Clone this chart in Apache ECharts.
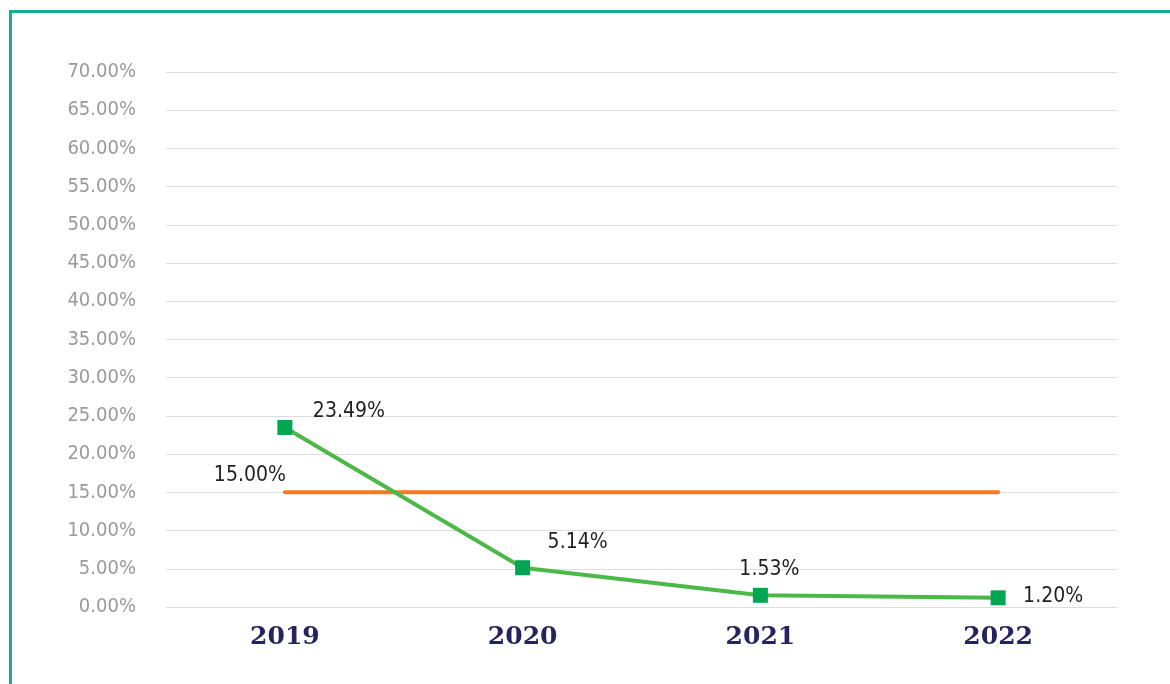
<!DOCTYPE html>
<html>
<head>
<meta charset="utf-8">
<script src="https://cdn.jsdelivr.net/npm/echarts@6/dist/echarts.min.js"></script>
<style>
  html, body { margin: 0; padding: 0; background: #fff; overflow: hidden; }
  #frame {
    position: absolute; left: 9px; top: 10px; width: 1200px; height: 700px;
    border-top: 3px solid #1aab8e; border-left: 3px solid #1aab8e;
  }
  #chart { position: absolute; left: 0; top: 0; width: 1170px; height: 684px; }
</style>
</head>
<body>
<div id="frame"></div>
<div id="chart"></div>
<script>
var years = ["2019", "2020", "2021", "2022"];
var rateValues = [23.49, 5.14, 1.53, 1.20];
var targetValues = [15, 15, 15, 15];
// label offsets around each point, from the picture
var rateOffsets = [[64, -16], [55, -25], [9, -26], [55, -1]];

var narrow = "'DejaVu Sans Condensed', 'DejaVu Sans', sans-serif";

var chart = echarts.init(document.getElementById("chart"));
chart.setOption({
  animation: false,
  grid: { left: 166, right: 53, top: 72, bottom: 77 },
  xAxis: {
    type: "category",
    data: years,
    boundaryGap: true,
    axisLine: { show: false },
    axisTick: { show: false },
    axisLabel: {
      margin: 18,
      color: "#25245e",
      fontFamily: "'DejaVu Serif', 'Liberation Serif', serif",
      fontWeight: "bold",
      fontSize: 25
    }
  },
  yAxis: {
    type: "value",
    min: 0,
    max: 70,
    interval: 5,
    axisLine: { show: false },
    axisTick: { show: false },
    splitLine: { lineStyle: { color: "#dddddd", width: 1 } },
    axisLabel: {
      margin: 30,
      color: "#9a9a9c",
      fontFamily: narrow,
      fontSize: 20,
      formatter: function (v) { return v.toFixed(2) + "%"; }
    }
  },
  series: [
    {
      name: "target",
      type: "line",
      data: targetValues.map(function (v, i) {
        return {
          value: v,
          label: i === 0 ? { show: true, position: "inside", offset: [-35, -17] } : { show: false }
        };
      }),
      symbol: "circle",
      symbolSize: 1,
      showSymbol: true,
      itemStyle: { color: "rgba(0,0,0,0)" },
      lineStyle: { color: "#f47a20", width: 4, cap: "round" },
      label: {
        color: "#231f20",
        fontFamily: narrow,
        fontSize: 21,
        formatter: function (p) { return p.value.toFixed(2) + "%"; }
      },
      z: 2
    },
    {
      name: "rate",
      type: "line",
      data: rateValues.map(function (v, i) {
        return { value: v, label: { offset: rateOffsets[i] } };
      }),
      symbol: "rect",
      symbolSize: 15,
      itemStyle: { color: "#00a651" },
      lineStyle: { color: "#4cb848", width: 4 },
      label: {
        show: true,
        position: "inside",
        color: "#231f20",
        fontFamily: narrow,
        fontSize: 21,
        formatter: function (p) { return p.value.toFixed(2) + "%"; }
      },
      z: 3
    }
  ]
});
</script>
</body>
</html>
